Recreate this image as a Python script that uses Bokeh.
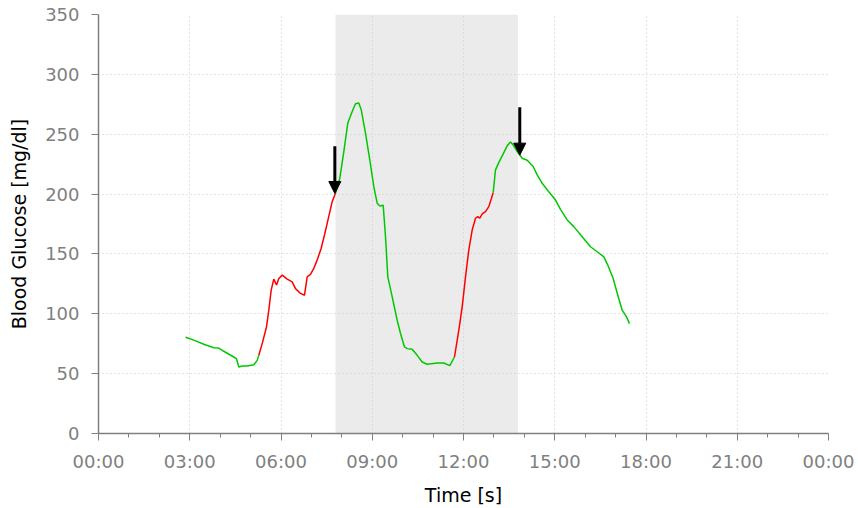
from bokeh.plotting import figure
from bokeh.models import (Range1d, FixedTicker, BoxAnnotation, Arrow, NormalHead)
from bokeh.embed import file_html
from bokeh.resources import INLINE

# ---- data (time of day in hours, glucose in mg/dl) ----
times = [2.860, 3.133, 3.462, 3.791, 3.955, 4.119, 4.448, 4.537, 4.613, 4.724,
         4.889, 5.106, 5.218, 5.270, 5.382, 5.523, 5.599, 5.678, 5.763, 5.852,
         5.928, 6.039, 6.204, 6.368, 6.477, 6.641, 6.773, 6.861, 6.970, 7.078,
         7.210, 7.321, 7.430, 7.571, 7.683, 7.792, 7.933, 8.065, 8.196, 8.341,
         8.449, 8.558, 8.637, 8.778, 8.919, 9.051, 9.163, 9.248, 9.360, 9.436,
         9.511, 9.656, 9.820, 9.929, 10.060, 10.149, 10.313, 10.478, 10.642, 10.807,
         11.135, 11.352, 11.550, 11.704, 11.845, 11.957, 12.066, 12.174, 12.286, 12.394,
         12.470, 12.536, 12.615, 12.723, 12.832, 12.920, 12.976, 13.052, 13.160, 13.305,
         13.436, 13.545, 13.634, 13.765, 13.930, 14.094, 14.291, 14.423, 14.587, 14.804,
         15.025, 15.189, 15.409, 15.626, 15.902, 16.175, 16.395, 16.613, 16.744, 16.922,
         17.073, 17.217, 17.359, 17.458]
glucose = [80.4, 78.0, 74.5, 71.7, 71.4, 68.7, 63.9, 62.5, 55.5, 56.4,
           56.4, 57.5, 61.1, 65.3, 75.1, 89.0, 103.0, 119.7, 129.0, 124.0,
           129.5, 132.3, 129.0, 126.7, 121.0, 117.0, 115.5, 130.9, 132.9, 137.9,
           146.3, 154.7, 165.8, 181.4, 193.7, 200.7, 213.2, 235.5, 259.3, 269.0,
           275.5, 276.0, 270.5, 251.0, 228.6, 206.2, 192.3, 190.0, 190.6, 164.4,
           130.9, 114.1, 94.6, 83.5, 72.3, 70.9, 70.3, 65.3, 59.7, 57.8,
           58.9, 58.9, 56.7, 63.9, 86.2, 105.8, 130.9, 153.2, 170.0, 179.8,
           181.2, 179.8, 183.4, 185.3, 189.5, 196.5, 201.2, 220.2, 226.3, 233.6,
           240.3, 243.4, 241.1, 235.5, 229.9, 228.3, 223.0, 216.0, 209.0, 202.0,
           195.0, 187.3, 178.4, 172.8, 164.4, 156.0, 151.8, 147.6, 140.7, 129.5,
           115.5, 103.0, 97.4, 91.8]
# times at which the trend colour switches (green -> red -> green ...)
phase_switch = [5.270, 7.792, 11.704, 12.976]
phase_colors = ["#00c800", "#ff0000"]

shade_start, shade_end = 7.79, 13.79
arrow_times = [7.77, 13.85]
arrow_from = [240.0, 272.5]
arrow_to = [200.5, 232.5]

x_ticks = [0, 3, 6, 9, 12, 15, 18, 21, 24]
x_tick_labels = ["00:00", "03:00", "06:00", "09:00", "12:00", "15:00", "18:00", "21:00", "00:00"]
y_ticks = [0, 50, 100, 150, 200, 250, 300, 350]

# ---- split the curve into coloured runs ----
runs_x, runs_y, runs_c = [], [], []
cur_x, cur_y, k = [], [], 0
for t, g in zip(times, glucose):
    cur_x.append(t); cur_y.append(g)
    if k < len(phase_switch) and abs(t - phase_switch[k]) < 1e-9:
        runs_x.append(cur_x); runs_y.append(cur_y); runs_c.append(phase_colors[k % 2])
        cur_x, cur_y = [t], [g]
        k += 1
runs_x.append(cur_x); runs_y.append(cur_y); runs_c.append(phase_colors[k % 2])

p = figure(width=858, height=508, output_backend="svg", toolbar_location=None,
           x_range=Range1d(0, 24), y_range=Range1d(0, 350),
           min_border_left=98, min_border_right=30, min_border_top=14, min_border_bottom=75)
p.outline_line_color = None
p.background_fill_color = "white"

shade = BoxAnnotation(left=shade_start, right=shade_end, fill_color="#ebebeb",
                      fill_alpha=1.0, line_color=None, level="image")
p.add_layout(shade)

p.multi_line(runs_x, runs_y, line_color=runs_c, line_width=1.5)

for t, a, b in zip(arrow_times, arrow_from, arrow_to):
    p.add_layout(Arrow(end=NormalHead(size=12, fill_color="black", line_color="black", line_width=1),
                       x_start=t, y_start=a, x_end=t, y_end=b,
                       line_color="black", line_width=3))

p.xaxis.ticker = FixedTicker(ticks=x_ticks, minor_ticks=list(range(25)))
p.xaxis.major_label_overrides = {t: l for t, l in zip(x_ticks, x_tick_labels)}
p.yaxis.ticker = FixedTicker(ticks=y_ticks)

for ax in (p.xaxis[0], p.yaxis[0]):
    ax.axis_line_color = "#808080"
    ax.axis_line_width = 1.5
    ax.major_tick_line_color = "#808080"
    ax.minor_tick_line_color = "#808080"
    ax.major_tick_in = 0
    ax.major_tick_out = 7
    ax.minor_tick_in = 0
    ax.minor_tick_out = 4
    ax.major_label_text_color = "#808080"
    ax.major_label_text_font = "DejaVu Sans"
    ax.major_label_text_font_size = "18px"
    ax.major_label_standoff = 12
    ax.axis_label_text_font = "DejaVu Sans"
    ax.axis_label_text_font_size = "19px"
    ax.axis_label_text_font_style = "normal"
    ax.axis_label_text_color = "black"

p.yaxis.minor_tick_out = 0
p.xaxis.major_label_standoff = 10
p.xaxis.axis_label = "Time [s]"
p.yaxis.axis_label = "Blood Glucose [mg/dl]"
p.xaxis.axis_label_standoff = 9
p.yaxis.axis_label_standoff = 12

for g in (p.xgrid[0], p.ygrid[0]):
    g.grid_line_color = "#c8c8c8"
    g.grid_line_dash = "1 3"
    g.grid_line_width = 1

open("out.html", "w").write(file_html(p, INLINE))
